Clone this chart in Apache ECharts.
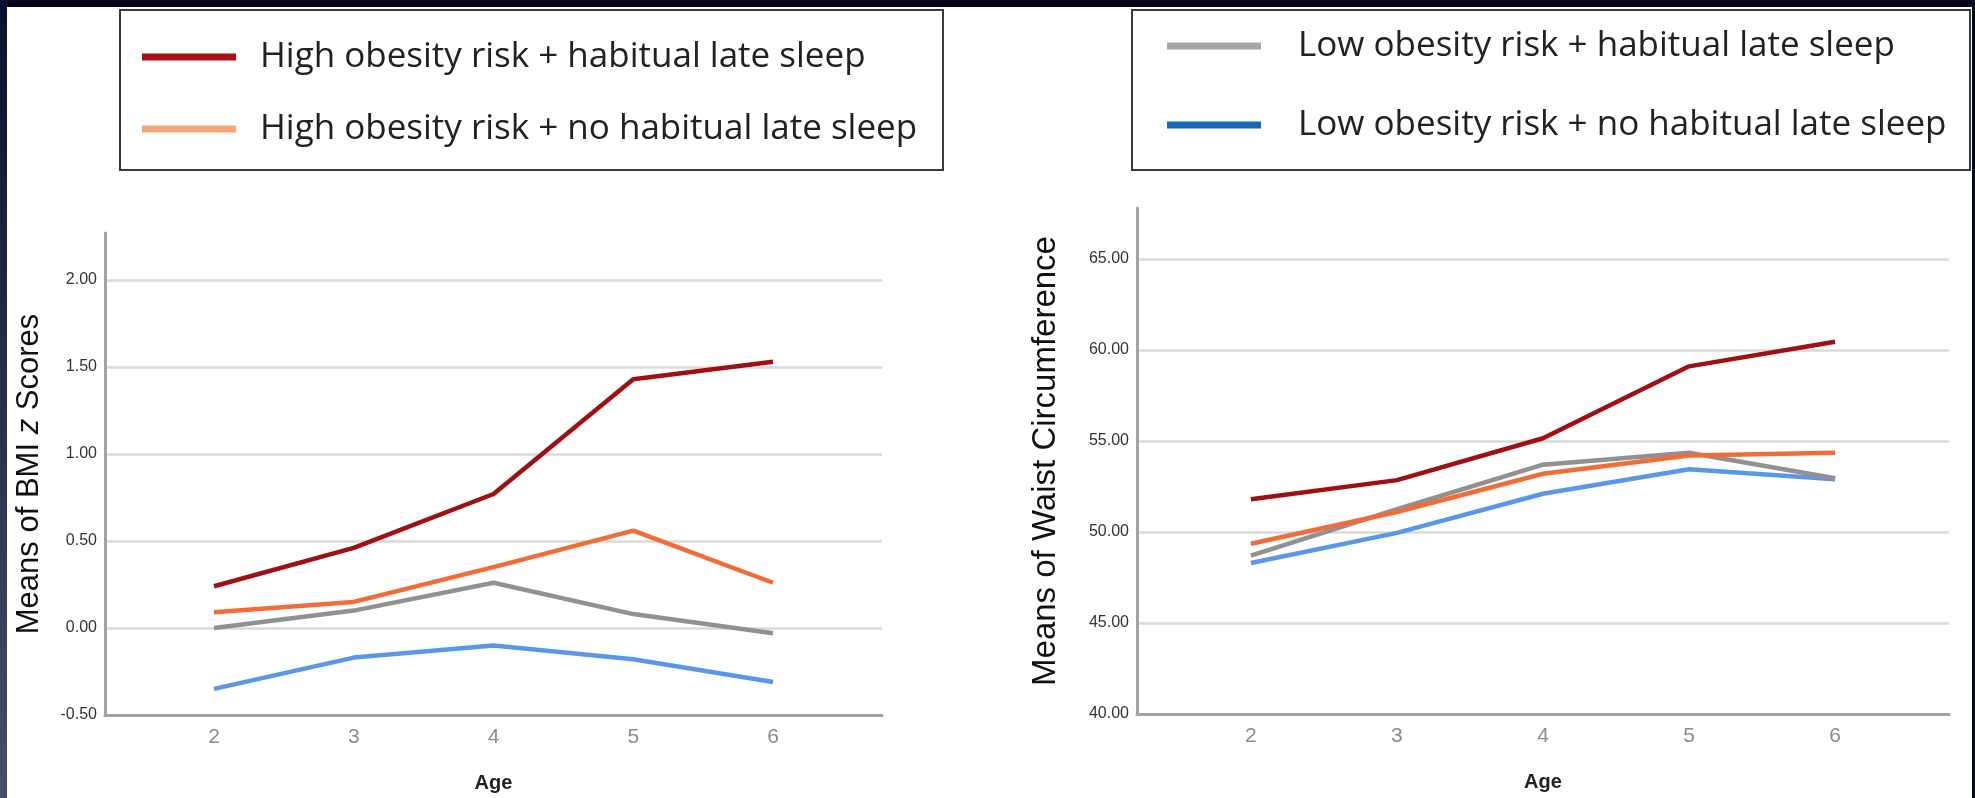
<!DOCTYPE html>
<html><head><meta charset="utf-8">
<script src="https://cdn.jsdelivr.net/npm/echarts@6/dist/echarts.min.js"></script>
<style>
html,body{margin:0;padding:0;width:1975px;height:798px;overflow:hidden;background:#05061c;}
#edge{position:absolute;left:0;top:0;width:7px;height:798px;background:linear-gradient(#0c0e30,#4a4c6c);}
#paper{position:absolute;left:7px;top:7px;width:1965px;height:791px;background:#fff;}
#chart{position:absolute;left:0;top:0;width:1975px;height:798px;}
</style></head><body>
<div id="edge"></div><div id="paper"></div><div id="chart"></div>
<script>
// ---- data ----
const ages = [2, 3, 4, 5, 6];
const groupNames = [
  'High obesity risk + habitual late sleep',
  'High obesity risk + no habitual late sleep',
  'Low obesity risk + habitual late sleep',
  'Low obesity risk + no habitual late sleep'
];
// Means of BMI z scores
const bmiHighLate   = [0.24, 0.46, 0.77, 1.43, 1.53];
const bmiHighNoLate = [0.09, 0.15, 0.35, 0.56, 0.26];
const bmiLowLate    = [0.00, 0.10, 0.26, 0.08, -0.03];
const bmiLowNoLate  = [-0.35, -0.17, -0.10, -0.18, -0.31];
// Means of waist circumference
const waistHighLate   = [51.8, 52.85, 55.15, 59.1, 60.45];
const waistHighNoLate = [49.35, 51.1, 53.2, 54.2, 54.35];
const waistLowLate    = [48.7, 51.25, 53.7, 54.35, 52.95];
const waistLowNoLate  = [48.3, 49.95, 52.1, 53.45, 52.9];
// tick labels
const bmiTicks = [-0.5, 0, 0.5, 1.0, 1.5, 2.0];
const waistTicks = [40, 45, 50, 55, 60, 65];

const lineColors = ['#a01012', '#f26c38', '#919191', '#5b97e8'];
const legendColors = ['#a8101a', '#f5a677', '#a6a6a6', '#1668bd'];

const pairs = vals => ages.map((a, i) => [a, vals[i]]);
const bmiSets = [bmiHighLate, bmiHighNoLate, bmiLowLate, bmiLowNoLate];
const waistSets = [waistHighLate, waistHighNoLate, waistLowLate, waistLowNoLate];

const chart = echarts.init(document.getElementById('chart'), null, {renderer: 'canvas'});

const xAxisBase = gi => ({
  type: 'value', gridIndex: gi, min: 1.22, max: 6.78,
  name: 'Age', nameLocation: 'middle', nameGap: 58,
  nameTextStyle: {fontFamily: 'Liberation Sans', fontWeight: 'bold', fontSize: 20, color: '#222'},
  axisLine: {show: true, onZero: false, lineStyle: {color: '#a3a3a3', width: 3}},
  axisTick: {show: false, customValues: ages},
  axisLabel: {customValues: ages, margin: 12, fontSize: 21, color: '#8c8c8c', fontFamily: 'Liberation Sans'},
  splitLine: {show: false}
});
const yAxisBase = (gi, mn, mx, iv, ticks, name, gap, fs) => ({
  type: 'value', gridIndex: gi, min: mn, max: mx, interval: iv,
  name: name, nameLocation: 'middle', nameGap: gap, nameRotate: 90,
  nameTextStyle: {fontFamily: 'Liberation Sans', fontSize: fs, color: '#111',
    rich: {i: {fontFamily: 'Liberation Sans', fontSize: fs, fontStyle: 'italic', color: '#111'}}},
  axisLine: {show: true, onZero: false, lineStyle: {color: '#a3a3a3', width: 3}},
  axisTick: {show: false, customValues: ticks},
  axisLabel: {customValues: ticks, margin: 8, fontSize: 16, color: '#333', fontFamily: 'Liberation Sans',
    formatter: v => v.toFixed(2)},
  splitLine: {show: true, lineStyle: {color: '#dadada', width: 2.5}}
});

const series = [];
groupNames.forEach((n, i) => {
  series.push({type: 'line', name: n, xAxisIndex: 0, yAxisIndex: 0, data: pairs(bmiSets[i]),
    showSymbol: false, symbol: 'none', lineStyle: {width: 4.5, color: lineColors[i]}, itemStyle: {color: lineColors[i]}, z: 10 - i});
  series.push({type: 'line', name: n, xAxisIndex: 1, yAxisIndex: 1, data: pairs(waistSets[i]),
    showSymbol: false, symbol: 'none', lineStyle: {width: 4.5, color: lineColors[i]}, itemStyle: {color: lineColors[i]}, z: 10 - i});
});

const legendItem = i => ({name: groupNames[i], icon: 'rect', itemStyle: {color: legendColors[i]}});

chart.setOption({
  animation: false,
  backgroundColor: 'transparent',
  textStyle: {fontFamily: 'Liberation Sans'},
  grid: [
    {left: 105, top: 233, width: 777, height: 482, containLabel: false},
    {left: 1137, top: 208, width: 812, height: 506, containLabel: false}
  ],
  xAxis: [xAxisBase(0), xAxisBase(1)],
  yAxis: [
    yAxisBase(0, -0.5, 2.27, 0.5, bmiTicks, 'Means of BMI {i|z} Scores', 60, 31),
    yAxisBase(1, 40, 67.8, 5, waistTicks, 'Means of Waist Circumference', 75, 33)
  ],
  legend: [
    {data: [legendItem(0), legendItem(1)], orient: 'vertical', left: 142, top: 37, padding: 0,
     itemWidth: 94, itemHeight: 7, itemGap: 32, selectedMode: false,
     textStyle: {fontFamily: 'Open Sans', fontSize: 35, color: '#222', lineHeight: 40, padding: [0, 0, 0, 19]}},
    {data: [legendItem(2), legendItem(3)], orient: 'vertical', left: 1167, top: 26, padding: 0,
     itemWidth: 94, itemHeight: 7, itemGap: 39, selectedMode: false,
     textStyle: {fontFamily: 'Open Sans', fontSize: 35, color: '#222', lineHeight: 40, padding: [0, 0, 0, 32]}}
  ],
  graphic: [
    {type: 'rect', shape: {x: 120, y: 10, width: 823, height: 160}, style: {fill: 'none', stroke: '#3a3a3a', lineWidth: 2}},
    {type: 'rect', shape: {x: 1132, y: 10, width: 838, height: 160}, style: {fill: 'none', stroke: '#3a3a3a', lineWidth: 2}}
  ],
  series: series
});
</script>
</body></html>
